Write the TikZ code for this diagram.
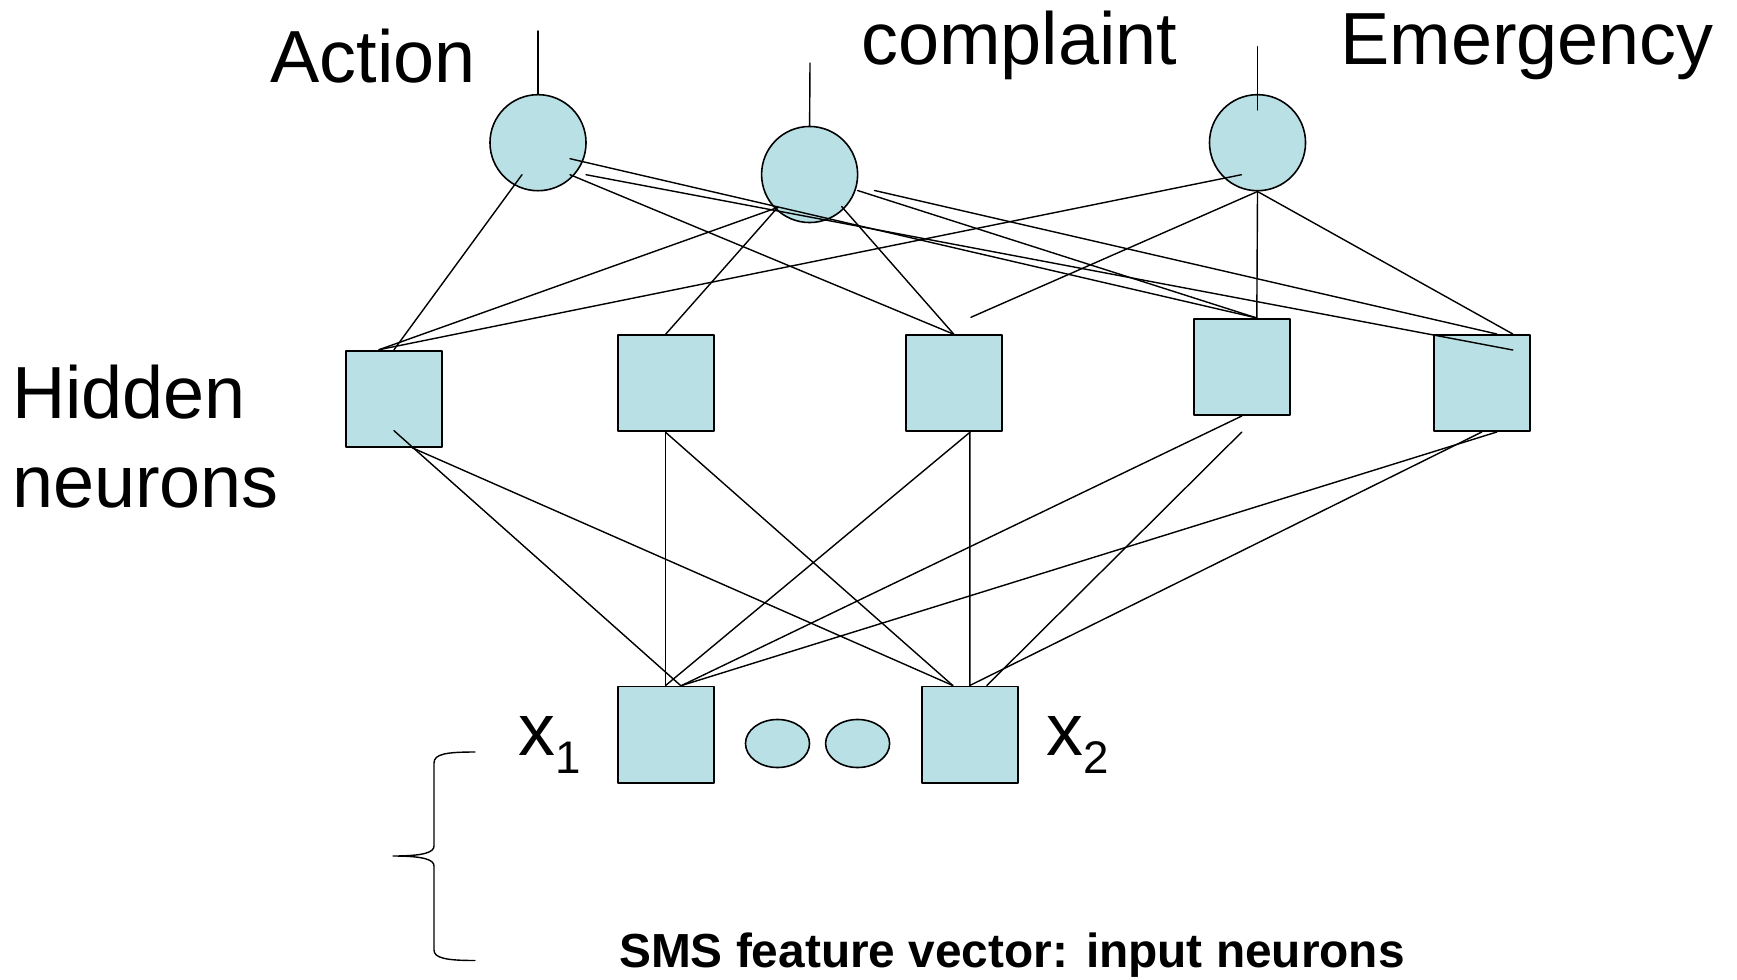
\documentclass[tikz,border=0pt]{standalone}
\usepackage{fontspec}
\setmainfont{Liberation Sans}
\usetikzlibrary{calc,shapes.geometric}
\definecolor{cellblue}{RGB}{185,224,228}
\tikzset{
  outunit/.style={circle, draw, fill=cellblue, line width=0.45pt, minimum size=0.96cm, inner sep=0pt},
  hidunit/.style={rectangle, draw, fill=cellblue, line width=0.55pt, minimum size=0.96cm, inner sep=0pt},
  dotunit/.style={ellipse, draw, fill=cellblue, line width=0.45pt, minimum width=0.64cm, minimum height=0.48cm, inner sep=0pt},
  lbl/.style={inner sep=0pt, font=\fontsize{21}{25.2}\selectfont},
  wire/.style={line width=0.4pt}
}
\begin{document}
\begin{tikzpicture}[x=0.01cm, y=-0.01cm, line join=round, line cap=round]
    \useasboundingbox[fill=white] (0,0) rectangle (1737,979);
    % output layer
    \node[outunit] (act) at (538,142.7) {};
    \node[outunit] (cmp) at (809.6,174.5) {};
    \node[outunit] (emg) at (1257.5,142.7) {};
    % hidden layer
    \node[hidunit] (h1) at (394,398.7) {};
    \node[hidunit] (h2) at (665.6,383.3) {};
    \node[hidunit] (h3) at (953.9,383.3) {};
    \node[hidunit] (h4) at (1241.8,367) {};
    \node[hidunit] (h5) at (1481.8,383) {};
    % input layer
    \node[hidunit] (x1) at (665.6,734.5) {};
    \node[hidunit] (x2) at (969.8,734.5) {};
    \node[dotunit] (d1) at (777.5,743.5) {};
    \node[dotunit] (d2) at (857.6,743.5) {};

    % labels
    \node[lbl, anchor=base west] (actlbl) at (270,82.5) {Action};
    \node[lbl, anchor=base west] (cmplbl) at (860.5,65) {complaint};
    \node[lbl, anchor=base west] (emglbl) at (1339.5,65) {Emergency};
    \node[lbl, anchor=base west, align=left] (hidlbl) at (11.4,507.5) {Hidden\\neurons};
    \node[lbl, anchor=base west] (x1lbl) at (518,755) {x\raisebox{-5.3pt}{\fontsize{13}{15}\selectfont 1}};
    \node[lbl, anchor=base west] (x2lbl) at (1046,755) {x\raisebox{-5.3pt}{\fontsize{13}{15}\selectfont 2}};
    \node[inner sep=0pt, anchor=base, font=\fontsize{13.6}{16}\selectfont\bfseries] (smslbl) at (1012,967) {SMS feature vector: input neurons};

    % output stems
    \coordinate (actout) at (538,31);
    \coordinate (cmpout) at (810,63);
    \coordinate (emgout) at (1257.5,46.7);
    \draw[wire] (actout) -- (act.north);
    \draw[wire] (cmpout) -- (cmp.north);
    \draw[wire] (emgout) -- ($(emg)+(0,-32.7)$);

    % output to hidden
    \draw[wire] ($(act)+(-16,32)$) -- (h1.north);
    \draw[wire] ($(act)+(32,32)$) -- (h3.north);
    \draw[wire] ($(act)+(32,16)$) -- ($(h4.north)+(15,0)$);
    \draw[wire] ($(act)+(48,32)$) -- ($(h5.north)+(31,16)$);
    \draw[wire] ($(cmp)+(-32,33)$) -- ($(h1.north)+(-15,0)$);
    \draw[wire] ($(cmp)+(-32,33)$) -- (h2.north);
    \draw[wire] ($(cmp)+(32,32)$) -- (h3.north);
    \draw[wire] ($(cmp)+(48,16)$) -- ($(h4.north)+(15,0)$);
    \draw[wire] ($(cmp)+(65,16)$) -- ($(h5.north)+(15,0)$);
    \draw[wire] ($(emg)+(-16,32)$) -- ($(h1.north)+(-15,0)$);
    \draw[wire] (emg.south) -- ($(h3.north)+(17,-17)$);
    \draw[wire] (emg.south) -- ($(h4.north)+(15,0)$);
    \draw[wire] (emg.south) -- ($(h5.north)+(31,0)$);

    % hidden to input
    \draw[wire] ($(h1)+(0,32)$) -- ($(x1.north)+(15,0)$);
    \draw[wire] ($(h1.south)+(18,0)$) -- ($(x2.north)+(-17,0)$);
    \draw[wire] (h2.south) -- (x1.north);
    \draw[wire] (h2.south) -- ($(x2.north)+(-17,0)$);
    \draw[wire] ($(h3.south)+(16,0)$) -- (x1.north);
    \draw[wire] ($(h3.south)+(16,0)$) -- (x2.north);
    \draw[wire] (h4.south) -- ($(x1.north)+(16,0)$);
    \draw[wire] ($(h4.south)+(0,16)$) -- ($(x2.north)+(17,0)$);
    \draw[wire] ($(h5.south)+(15,0)$) -- ($(x1.north)+(16,0)$);
    \draw[wire] (h5.south) -- (x2.north);

    % brace
    \draw[wire] (475,752) .. controls (446,752) and (434,754) .. (434,763) -- (434,846)
        .. controls (434,852) and (425,856) .. (393,856)
        .. controls (425,856) and (434,860) .. (434,866) -- (434,950)
        .. controls (434,958) and (446,960.5) .. (475,960.5);
\end{tikzpicture}
\end{document}
